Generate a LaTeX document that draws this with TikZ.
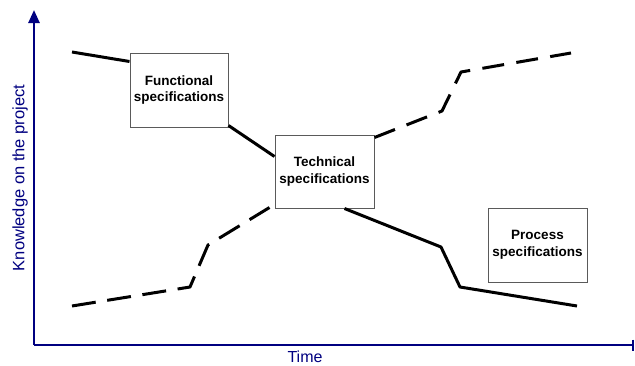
\documentclass[tikz,border=0pt]{standalone}
\usepackage{fontspec}
\setmainfont{Liberation Sans}
\usetikzlibrary{arrows.meta,calc}
\definecolor{axisblue}{RGB}{0,0,128}
\definecolor{boxgray}{RGB}{90,90,90}
\tikzset{
  specbox/.style={draw=boxgray, line width=1pt, fill=white, minimum width=98pt,
    minimum height=74pt, align=center, font=\fontsize{13.5}{16.5}\selectfont\bfseries,
    inner sep=0pt},
  axis/.style={draw=axisblue, line width=2.5pt},
  curve/.style={line width=3pt, line join=round},
  dashcurve/.style={curve, dash pattern=on 22pt off 12.4pt},
  axislabel/.style={text=axisblue, inner sep=0pt}
}
\begin{document}
\begin{tikzpicture}[x=1pt,y=-1pt]
\useasboundingbox (0,0) rectangle (635,365);
% axes
\coordinate (o) at (34,345);
\coordinate (ytop) at (34,10);
\coordinate (xend) at (634,345);
\draw[axis, -{Triangle[width=11pt,length=13pt]}] (o) -- (ytop);
\draw[axis, -{Bar[width=11pt]}] (o) -- (xend);
\node[axislabel, rotate=90, font=\fontsize{16.5}{19}\selectfont] (ylab) at (20,178) {Knowledge on the project};
\node[axislabel, font=\fontsize{16}{19}\selectfont] (xlab) at (305,357) {Time};
% phase boxes
\node[specbox] (f) at (179,90) {Functional\\specifications};
\node[specbox, minimum height=73pt, minimum width=99pt] (t) at (324.5,171.5) {Technical\\specifications};
\node[specbox, minimum width=99pt] (p) at (537.5,245) {Process\\specifications};
% decreasing curve (solid)
\coordinate (s0) at (72,52);
\coordinate (s1) at (441,247);
\coordinate (s2) at (460,287);
\coordinate (s3) at (577,306);
\draw[curve] (s0) -- ($(f.north west)+(0,9)$);
\draw[curve] ($(f.south east)+(0,-2)$) -- ($(t.north west)+(0,22)$);
\draw[curve] ($(t.south west)+(70,0)$) -- (s1) -- (s2) -- (s3);
% increasing curve (dashed)
\coordinate (d0) at (72,306);
\coordinate (d1) at (190,287);
\coordinate (d2) at (208,245);
\coordinate (d3) at (442,111);
\coordinate (d4) at (461,72);
\coordinate (d5) at (571,53);
\draw[dashcurve, dash pattern=on 24pt off 11.65pt] (d0) -- (d1) -- (d2) -- ($(t.south west)+(-5,-1)$);
\draw[dashcurve] ($(t.north east)+(0,3)$) -- (d3) -- (d4) -- (d5);
\end{tikzpicture}
\end{document}
